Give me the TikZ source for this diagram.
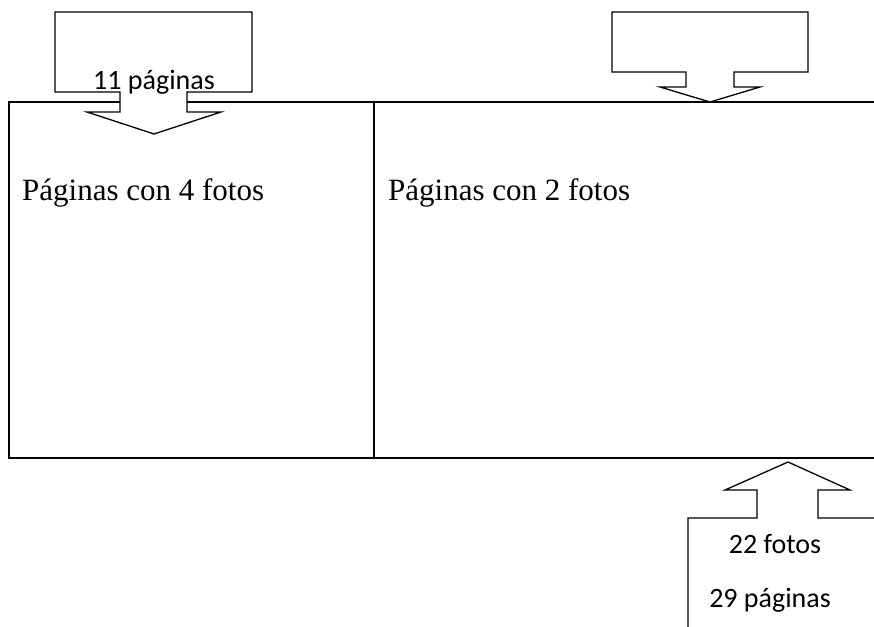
\documentclass[tikz,border=0pt]{standalone}
\usepackage{fontspec}
\setmainfont{Liberation Serif}
\newfontfamily\calfont{Carlito}
\begin{document}
\begin{tikzpicture}[x=1pt,y=-1pt,
  shape line/.style={draw=black,line width=1.3pt,line join=miter},
  callout/.style={shape line,fill=white},
  serif label/.style={inner sep=0pt,anchor=base west,font=\fontsize{31}{37}\selectfont},
  sans label/.style={inner sep=0pt,anchor=base,font=\calfont\fontsize{28}{33}\selectfont}]
\useasboundingbox (0,0) rectangle (874,626);
\clip (0,0) rectangle (874,626);
% main rectangle (continues past the right edge)
\draw[shape line] (950,102) -- (9,102) -- (9,458) -- (950,458);
\draw[shape line] (374,102) -- (374,458);
% callout 1 (down arrow, top left)
\draw[callout] (55,12) -- (252,12) -- (252,92) -- (187,92) -- (187,112) -- (221,112)
  -- (154,134) -- (87,112) -- (120,112) -- (120,92) -- (55,92) -- cycle;
% callout 2 (down arrow, top right)
\draw[callout] (612,12) -- (808,12) -- (808,72) -- (734,72) -- (734,87) -- (760,87)
  -- (710,102) -- (660,87) -- (686,87) -- (686,72) -- (612,72) -- cycle;
% callout 3 (up arrow, bottom right)
\draw[callout] (688,660) -- (688,518) -- (757,518) -- (757,490) -- (725,490)
  -- (788,462) -- (850,490) -- (818,490) -- (818,518) -- (950,518) -- (950,660) -- cycle;
% texts
\node[serif label] (t4) at (22,200) {Páginas con 4 fotos};
\node[serif label] (t2) at (388,200) {Páginas con 2 fotos};
\node[sans label] (p11) at (154,89) {11 páginas};
\node[sans label] (f22) at (775,553) {22 fotos};
\node[sans label] (p29) at (770,607) {29 páginas};
\end{tikzpicture}
\end{document}
